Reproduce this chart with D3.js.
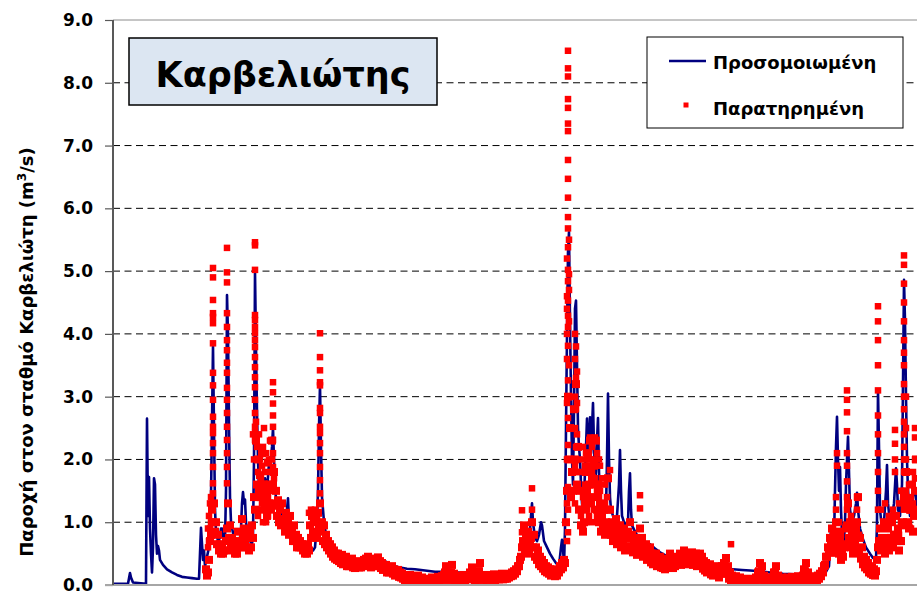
<!DOCTYPE html>
<html>
<head>
<meta charset="utf-8">
<script src="https://cdn.jsdelivr.net/npm/d3@7"></script>
<style>
  body { margin: 0; background: #fff; }
  text { font-family: "DejaVu Sans", sans-serif; font-weight: bold; fill: #000; }
</style>
</head>
<body>
<div id="chart"></div>
<script>
// simulated discharge, [day, m3/s]
var simulated = [
  [0,0.02],[15,0.02],[17,0.19],[18,0.12],[20,0.04],[33,0.02],[34,2.65],[35,1.1],[36,1.72],[37,0.9],
  [38,0.5],[39,0.2],[40,0.6],[41,1.7],[42,1.6],[43,0.8],[44,0.5],[45,0.62],[46,0.55],[47,0.4],
  [50,0.32],[54,0.25],[59,0.2],[64,0.16],[69,0.13],[74,0.12],[79,0.11],[84,0.1],[86,0.1],[87,0.5],
  [88,0.91],[89,0.65],[90,0.4],[91,0.55],[92,0.3],[94,0.45],[96,0.6],[97,0.9],[98,1.4],[99,2.6],
  [100,3.8],[101,2.5],[102,1.2],[103,0.85],[105,0.7],[107,0.75],[108,0.9],[109,0.9],[110,0.75],[112,0.7],
  [113,1.5],[114,4.62],[115,3.98],[116,2.6],[117,1.4],[118,1.0],[120,0.83],[122,0.75],[124,0.7],[126,0.6],
  [128,0.9],[129,1.3],[130,1.48],[131,1.3],[132,1.36],[133,1.0],[135,0.8],[137,0.7],[139,0.65],[140,0.8],
  [141,2.0],[142,4.98],[143,3.8],[144,2.74],[145,2.0],[146,1.5],[148,1.5],[150,1.55],[152,1.7],[154,1.5],
  [156,1.94],[157,1.85],[158,2.0],[159,2.2],[160,2.5],[161,2.0],[162,1.5],[164,1.3],[166,1.2],[168,1.15],
  [170,1.1],[172,1.05],[174,1.2],[175,1.38],[176,1.0],[178,0.95],[180,0.9],[182,0.8],[184,0.75],[187,0.7],
  [190,0.6],[193,0.55],[195,0.53],[197,0.6],[200,0.55],[202,0.6],[204,1.0],[205,1.5],[206,2.5],[207,3.18],
  [208,2.2],[209,1.4],[211,1.0],[213,0.8],[215,0.75],[217,0.7],[220,0.6],[224,0.55],[227,0.5],[232,0.46],
  [237,0.42],[242,0.4],[247,0.4],[252,0.42],[257,0.43],[262,0.4],[267,0.42],[272,0.38],[277,0.33],[282,0.3],
  [287,0.28],[294,0.26],[302,0.25],[312,0.23],[322,0.21],[332,0.21],[342,0.2],[352,0.2],[362,0.2],[372,0.19],
  [382,0.19],[392,0.2],[399,0.22],[404,0.3],[407,0.4],[410,0.55],[413,0.6],[415,0.7],[417,0.9],[419,1.3],
  [420,1.0],[422,0.75],[424,0.7],[426,0.8],[428,1.0],[429,0.95],[431,0.7],[434,0.6],[437,0.5],[440,0.42],
  [443,0.35],[446,0.3],[448,0.6],[449,0.72],[450,0.6],[451,0.3],[452,0.9],[453,2.5],[454,4.0],[455,5.3],
  [456,5.62],[457,4.2],[458,3.0],[459,2.0],[460,1.6],[461,2.8],[462,4.4],[463,4.53],[464,3.5],[465,2.5],
  [466,2.2],[467,2.0],[468,1.6],[469,1.3],[470,1.15],[471,1.4],[472,1.8],[473,2.2],[474,2.65],[475,2.0],
  [476,2.3],[477,2.67],[478,2.1],[479,2.5],[480,2.9],[481,2.2],[482,1.6],[483,1.8],[484,2.3],[485,2.66],
  [486,1.8],[487,1.4],[489,1.3],[491,1.1],[493,1.2],[494,2.0],[495,3.05],[496,2.0],[497,1.4],[498,1.2],
  [500,1.1],[502,1.0],[504,1.1],[506,1.6],[507,2.15],[508,1.5],[509,1.1],[511,1.0],[513,0.95],[515,1.0],
  [516,1.5],[517,1.78],[518,1.2],[519,0.95],[522,0.85],[527,0.72],[532,0.68],[537,0.65],[542,0.58],[547,0.52],
  [554,0.46],[562,0.44],[570,0.42],[579,0.41],[587,0.4],[595,0.33],[604,0.27],[612,0.26],[620,0.25],[629,0.24],
  [637,0.23],[647,0.22],[657,0.2],[670,0.18],[682,0.17],[692,0.17],[702,0.16],[712,0.18],[716,0.3],[717,0.6],
  [718,0.91],[719,0.85],[720,0.6],[721,0.7],[722,1.5],[723,2.2],[724,2.68],[725,2.0],[726,1.5],[727,1.88],
  [728,1.2],[729,0.8],[730,0.56],[731,0.7],[732,1.0],[733,1.6],[734,2.0],[735,2.36],[736,1.8],[737,1.2],
  [739,1.0],[741,1.1],[743,1.3],[744,1.47],[745,1.2],[747,0.9],[750,0.73],[753,0.6],[757,0.5],[760,0.43],
  [763,0.4],[764,1.0],[765,3.1],[766,2.2],[767,1.2],[769,0.9],[771,1.0],[773,1.5],[774,1.91],[775,1.3],
  [777,1.0],[779,1.1],[781,1.3],[783,1.86],[784,1.6],[785,1.2],[787,1.1],[789,1.6],[790,3.2],[791,4.86],
  [792,4.2],[793,3.0],[794,2.0],[795,1.5],[797,1.1],[799,1.2],[801,1.6],[803,1.4],[804,1.2]
];

// observed discharge: first reading every 2 days from day 93
var obsStartDay = 93;
var obsStepDays = 2;
var observedHigh = [
  0.25,0.2,0.7,1.2,1.3,1.0,0.8,0.65,0.6,0.55,
  0.7,1.3,0.95,0.75,0.65,0.6,0.85,0.7,1.05,0.9,
  0.8,0.75,0.85,0.95,1.4,2.3,2.0,1.75,2.1,1.6,
  1.45,1.95,1.6,2.3,1.8,1.5,1.35,1.2,1.3,1.05,
  1.15,1.0,1.1,0.9,0.95,0.8,0.75,0.7,0.65,0.6,
  0.55,0.65,0.95,1.1,1.0,1.05,1.15,1.3,1.0,0.95,
  0.8,0.7,0.65,0.6,0.55,0.5,0.5,0.45,0.48,0.42,
  0.45,0.4,0.38,0.42,0.36,0.35,0.38,0.33,0.36,0.4,
  0.42,0.45,0.38,0.35,0.38,0.42,0.44,0.38,0.35,0.3,
  0.32,0.28,0.26,0.3,0.25,0.22,0.24,0.2,0.18,0.15,
  0.13,0.12,0.16,0.1,0.12,0.08,0.15,0.1,0.12,0.08,
  0.1,0.05,0.09,0.12,0.08,0.1,0.13,0.1,0.14,0.16,
  0.3,0.2,0.14,0.32,0.18,0.12,0.15,0.1,0.13,0.16,
  0.12,0.15,0.2,0.28,0.15,0.12,0.22,0.35,0.15,0.13,
  0.16,0.12,0.15,0.14,0.17,0.13,0.16,0.15,0.18,0.14,
  0.16,0.15,0.18,0.2,0.22,0.25,0.3,0.4,0.6,0.95,
  0.75,0.85,0.65,1.0,0.8,0.6,0.55,0.45,0.4,0.35,
  0.3,0.28,0.25,0.22,0.25,0.2,0.22,0.3,0.35,0.4,
  1.0,3.0,2.5,1.8,2.8,3.2,2.2,1.5,1.2,1.0,
  1.8,2.1,2.3,1.7,1.9,2.3,1.6,1.3,1.1,1.2,
  1.0,1.7,1.2,1.0,0.9,1.05,0.85,0.95,0.8,0.9,
  0.75,0.85,1.0,0.8,0.7,0.75,0.65,0.9,0.75,0.6,
  0.65,0.55,0.6,0.5,0.45,0.5,0.42,0.45,0.4,0.38,
  0.35,0.42,0.5,0.4,0.38,0.42,0.45,0.5,0.45,0.55,
  0.5,0.45,0.48,0.52,0.45,0.5,0.42,0.5,0.45,0.38,
  0.35,0.3,0.33,0.28,0.25,0.3,0.28,0.22,0.3,0.35,
  0.43,0.3,0.2,0.15,0.12,0.14,0.1,0.12,0.08,0.1,
  0.07,0.09,0.06,0.1,0.08,0.12,0.2,0.35,0.3,0.15,
  0.1,0.12,0.08,0.1,0.2,0.3,0.15,0.1,0.12,0.08,
  0.1,0.12,0.09,0.13,0.1,0.12,0.14,0.1,0.13,0.25,
  0.35,0.2,0.12,0.1,0.14,0.12,0.15,0.18,0.22,0.3,
  0.45,0.6,0.75,0.9,0.8,1.0,0.85,0.7,0.55,0.6,
  0.9,1.3,1.0,0.8,0.7,0.9,1.4,0.75,0.6,0.45,
  0.4,0.35,0.3,0.28,0.25,0.22,0.6,0.9,0.75,1.0,
  0.65,0.9,0.75,1.0,0.8,1.1,0.9,0.7,0.95,1.4,
  1.8,1.3,1.2,1.6,1.1,2.0
];

// second reading of each 2-day step (one day later), usually the lower one
var observedLow = [
  0.15,0.4,0.8,1.0,0.85,0.65,0.55,0.5,0.5,0.55,
  0.9,0.75,0.6,0.55,0.5,0.5,0.6,0.6,0.75,0.65,
  0.6,0.55,0.6,0.75,1.2,1.6,1.5,1.4,1.6,1.2,
  1.1,1.3,1.2,1.6,1.3,1.1,1.0,0.95,1.0,0.85,
  0.9,0.8,0.85,0.7,0.7,0.6,0.6,0.6,0.55,0.5,
  0.5,0.55,0.75,0.85,0.8,0.75,0.9,0.85,0.7,0.65,
  0.6,0.55,0.5,0.45,0.42,0.4,0.38,0.35,0.33,0.35,
  0.3,0.3,0.32,0.28,0.27,0.3,0.28,0.28,0.32,0.33,
  0.36,0.3,0.28,0.3,0.33,0.35,0.3,0.27,0.24,0.25,
  0.2,0.2,0.22,0.18,0.15,0.17,0.13,0.12,0.1,0.08,
  0.06,0.09,0.05,0.07,0.04,0.08,0.05,0.06,0.03,0.05,
  0.02,0.04,0.07,0.04,0.05,0.08,0.05,0.08,0.1,0.2,
  0.14,0.08,0.2,0.1,0.07,0.09,0.06,0.08,0.1,0.07,
  0.09,0.12,0.18,0.1,0.07,0.14,0.22,0.1,0.08,0.1,
  0.08,0.1,0.09,0.11,0.08,0.1,0.09,0.12,0.09,0.1,
  0.1,0.12,0.14,0.15,0.18,0.22,0.3,0.45,0.7,0.55,
  0.65,0.5,0.75,0.6,0.45,0.4,0.33,0.3,0.26,0.22,
  0.2,0.18,0.15,0.17,0.14,0.15,0.2,0.25,0.28,0.35,
  1.5,2.0,1.4,1.5,2.0,1.6,1.2,0.95,0.85,1.3,
  1.5,1.6,1.3,1.4,1.6,1.2,1.0,0.85,0.9,0.8,
  1.2,0.9,0.8,0.7,0.8,0.65,0.7,0.6,0.7,0.55,
  0.62,0.75,0.6,0.52,0.55,0.48,0.6,0.55,0.45,0.48,
  0.4,0.42,0.36,0.33,0.35,0.3,0.32,0.28,0.27,0.25,
  0.3,0.36,0.3,0.27,0.3,0.33,0.36,0.32,0.4,0.36,
  0.33,0.35,0.38,0.32,0.36,0.3,0.35,0.32,0.26,0.23,
  0.2,0.22,0.17,0.15,0.2,0.17,0.12,0.18,0.22,0.3,
  0.18,0.1,0.07,0.05,0.06,0.03,0.05,0.02,0.03,0.02,
  0.03,0.01,0.03,0.02,0.05,0.1,0.22,0.2,0.08,0.04,
  0.05,0.02,0.04,0.12,0.2,0.08,0.04,0.05,0.02,0.03,
  0.05,0.03,0.06,0.04,0.05,0.07,0.04,0.06,0.15,0.22,
  0.12,0.06,0.04,0.07,0.05,0.08,0.1,0.14,0.2,0.32,
  0.45,0.55,0.65,0.6,0.7,0.65,0.5,0.4,0.45,0.65,
  0.95,0.75,0.6,0.5,0.65,1.0,0.55,0.42,0.33,0.28,
  0.25,0.2,0.18,0.16,0.15,0.4,0.7,0.55,0.7,0.5,
  0.65,0.55,0.75,0.6,0.8,0.7,0.55,0.7,1.0,1.3,
  1.0,0.9,1.2,0.85,1.5,1.2
];

// extra readings during floods (many per day), [day, [m3/s...]]
var obsBursts = [
  [95,[0.9,0.6]],[96,[1.1,0.7]],[97,[1.3,0.9]],[98,[1.4,1.0]],
  [100,[5.05,4.9,4.54,4.33,4.27,4.17,3.85,3.38,3.18,2.95,2.68,2.52,2.42,2.26,2.1,1.88,1.62,1.46]],
  [114,[5.37,4.98,4.82,4.33,4.11,3.9,3.74,3.54,3.38,3.14,2.95,2.74,2.52,2.31,2.1,1.88,1.62]],
  [142,[5.46,5.41,5.02,4.3,4.22,4.11,4.01,3.9,3.79,3.63,3.47,3.31,3.15,2.95,2.74,2.52,2.42,2.31]],
  [140,[2.4]],[141,[2.0]],[143,[2.6,1.4]],[144,[2.2]],[145,[1.8,1.4,1.1]],[146,[2.4,1.2]],[147,[2.0,1.5,1.2]],
  [148,[1.7]],[149,[1.9,1.3]],[150,[2.2,1.0]],[151,[1.5,2.5,1.2]],[152,[1.8,1.2]],[153,[2.1,1.3,1.0]],
  [154,[1.6]],[155,[1.4,1.1]],[156,[2.0,1.6,1.2]],[157,[2.3,1.5]],[158,[1.8,1.3]],[159,[2.0,1.5]],
  [161,[1.7,1.3]],[163,[1.5]],[165,[1.25]],[167,[1.3]],
  [160,[3.23,3.07,2.89,2.7,2.52,2.31,2.1,1.88]],
  [196,[1.15]],[198,[1.2]],[200,[1.05]],[202,[1.2]],[204,[1.1]],
  [207,[4.01,3.63,3.42,3.23,3.18,2.82,2.74,2.52,2.42,2.26,2.1,1.88,1.67,1.46]],
  [409,[1.19,0.84]],[419,[1.54,1.2]],
  [454,[5.2,4.6,4.4,4.0,3.6,2.9,2.0,1.3,0.7]],
  [455,[8.51,8.23,8.1,7.74,7.6,7.35,7.23,6.77,6.47,6.17,5.86,5.68,5.38,5.02,4.84,4.53,4.29,4.11,3.81,3.26,2.66,2.23,1.56,1.2,0.84]],
  [456,[5.5,4.95,4.7,4.2,3.5,3.0]],
  [462,[4.0,3.6,3.0,2.5,1.9,1.3]],[463,[3.8,3.3,2.8,2.2,1.6]],[464,[3.4,2.9,2.4,1.8]],
  [466,[1.2,1.8]],[468,[1.1,1.5,2.0]],[470,[0.95,1.4,2.2]],[473,[1.0,1.2,2.1]],[476,[1.1,1.9]],
  [481,[1.2,1.6,2.3]],[486,[1.0,1.4,2.0]],[490,[0.9,1.3]],[494,[1.0,1.4]],
  [472,[1.9,1.6,1.4]],[474,[1.2,2.0]],[477,[2.35,2.0,1.6,1.4]],[479,[1.0,1.8,2.2]],
  [482,[2.35,2.0,1.7]],[484,[1.1,1.5,2.1]],[487,[1.9,1.5]],[489,[1.1,1.7]],[492,[1.6,1.3]],
  [497,[1.83]],[527,[1.43,1.22]],[618,[0.65]],
  [720,[0.5,0.9]],[723,[1.4,1.2]],[724,[2.1,1.9]],[726,[0.6,1.0]],[728,[0.8,0.5]],
  [734,[3.1,2.95,2.75,2.45,2.1,1.9,1.65,1.4,1.2]],
  [736,[0.9,0.6]],[738,[1.1,0.7]],[740,[1.0,0.6]],[746,[0.8,0.5]],
  [744,[1.4,1.2,1.0]],
  [765,[4.44,4.2,3.9,3.5,3.1,2.7,2.4,2.1,1.8,1.5,1.2]],
  [768,[1.2,0.6]],[772,[1.3,0.7]],[776,[1.1,0.6]],[780,[1.2,0.7]],[786,[1.3,0.8]],[788,[1.5,1.0]],
  [782,[2.47,2.25,2.0,1.8]],
  [791,[5.25,5.1,4.8,4.5,4.2,3.9,3.7,3.5,3.2,3.0,2.8,2.6,2.4,2.2,2.0,1.8,1.5,1.2]],
  [793,[3.0,2.5,2.0,1.5]],
  [796,[1.6,1.0]],[798,[1.4,0.9]],[800,[1.8,1.3]],[804,[1.7,1.2]],
  [802,[2.5,2.35,2.0,1.7]]
];

var yTicks = [0, 1, 2, 3, 4, 5, 6, 7, 8, 9];
var legendLabels = ["Προσομοιωμένη", "Παρατηρημένη"];
var titleText = "Καρβελιώτης";

var svgWidth = 917;
var svgHeight = 595;
var margin = { top: 20, right: 0, bottom: 10, left: 113 };
var width = svgWidth - margin.left - margin.right;
var height = svgHeight - margin.top - margin.bottom;

var svg = d3.select("#chart")
  .append("svg")
  .attr("width", svgWidth)
  .attr("height", svgHeight);

var chartGroup = svg.append("g")
  .attr("transform", `translate(${margin.left}, ${margin.top})`);

var xScale = d3.scaleLinear().domain([0, 804]).range([0, width]);
var yScale = d3.scaleLinear().domain([0, 9]).range([height, 0]);

// dashed gridlines
chartGroup.append("g")
  .selectAll("line")
  .data(yTicks.filter(d => d > 0 && d < 9))
  .enter()
  .append("line")
  .attr("x1", 0)
  .attr("x2", width)
  .attr("y1", d => yScale(d))
  .attr("y2", d => yScale(d))
  .attr("stroke", "#000")
  .attr("stroke-width", 1)
  .attr("stroke-dasharray", "7,4.5");

// top border
chartGroup.append("line")
  .attr("x1", 0).attr("x2", width)
  .attr("y1", yScale(9)).attr("y2", yScale(9))
  .attr("stroke", "#8c8c8c").attr("stroke-width", 1);

// y axis
var leftAxis = d3.axisLeft(yScale)
  .tickValues(yTicks)
  .tickSize(8)
  .tickPadding(12)
  .tickFormat(d3.format(".1f"));

var yAxis = chartGroup.append("g").call(leftAxis);
yAxis.select(".domain").remove();
yAxis.selectAll(".tick line").attr("stroke", "#595959").attr("stroke-width", 1.2);
yAxis.selectAll(".tick text")
  .style("font-size", "17px")
  .style("font-family", "'DejaVu Sans', sans-serif")
  .style("font-weight", "bold")
  .attr("fill", "#000");

// bottom and left axis lines
chartGroup.append("line")
  .attr("x1", -8).attr("x2", width)
  .attr("y1", height).attr("y2", height)
  .attr("stroke", "#a6a6a6").attr("stroke-width", 2);

chartGroup.append("line")
  .attr("x1", 0).attr("x2", 0)
  .attr("y1", 0).attr("y2", height)
  .attr("stroke", "#595959").attr("stroke-width", 2);

// clip for data
svg.append("defs").append("clipPath")
  .attr("id", "plotClip")
  .append("rect")
  .attr("x", 1).attr("y", -6)
  .attr("width", width).attr("height", height + 5);

var dataGroup = chartGroup.append("g").attr("clip-path", "url(#plotClip)");

// simulated line
var line = d3.line()
  .x(d => xScale(d[0]))
  .y(d => yScale(d[1]));

dataGroup.append("path")
  .datum(simulated)
  .attr("d", line)
  .attr("fill", "none")
  .attr("stroke", "#000080")
  .attr("stroke-width", 2.6)
  .attr("stroke-linejoin", "round");

// observed points: regular readings drawn as a dense band, flood bursts as single squares
var bandPoints = [];
observedHigh.forEach(function(q, i) {
  bandPoints.push({ day: obsStartDay + i * obsStepDays, q: q });
});
observedLow.forEach(function(q, i) {
  bandPoints.push({ day: obsStartDay + 1 + i * obsStepDays, q: q });
});
var burstPoints = [];
obsBursts.forEach(function(b) {
  b[1].forEach(function(q) { burstPoints.push({ day: b[0], q: q }); });
});

function drawSquares(points, cls, size) {
  dataGroup.selectAll("." + cls)
    .data(points)
    .enter()
    .append("rect")
    .attr("class", cls)
    .attr("x", d => xScale(d.day) - size / 2)
    .attr("y", d => Math.min(yScale(d.q) - size / 2, height - size - 1))
    .attr("width", size)
    .attr("height", size)
    .attr("fill", "#ff0000");
}
drawSquares(burstPoints, "obs-burst", 6.5);
drawSquares(bandPoints, "obs-band", 8);

// y axis label
var yLabel = svg.append("text")
  .attr("transform", "translate(33, 352) rotate(-90)")
  .attr("text-anchor", "middle")
  .style("font-size", "18px");
yLabel.append("tspan").text("Παροχή στον σταθμό Καρβελιώτη (m");
yLabel.append("tspan").attr("dy", -7).style("font-size", "12px").text("3");
yLabel.append("tspan").attr("dy", 7).text("/s)");

// title box
svg.append("rect")
  .attr("x", 129).attr("y", 38)
  .attr("width", 308).attr("height", 67)
  .attr("fill", "#dce6f2")
  .attr("stroke", "#000")
  .attr("stroke-width", 1.5);

svg.append("text")
  .attr("x", 283).attr("y", 87)
  .attr("text-anchor", "middle")
  .style("font-size", "35px")
  .text(titleText);

// legend
var legend = svg.append("g");
legend.append("rect")
  .attr("x", 647).attr("y", 37)
  .attr("width", 256).attr("height", 91)
  .attr("fill", "#fff")
  .attr("stroke", "#000")
  .attr("stroke-width", 1);

legend.append("line")
  .attr("x1", 669).attr("x2", 706)
  .attr("y1", 61).attr("y2", 61)
  .attr("stroke", "#000080")
  .attr("stroke-width", 2.4);

legend.append("rect")
  .attr("x", 683.5).attr("y", 102.5)
  .attr("width", 5).attr("height", 5)
  .attr("fill", "#ff0000");

legend.selectAll(".legend-text")
  .data(legendLabels)
  .enter()
  .append("text")
  .attr("class", "legend-text")
  .attr("x", 713)
  .attr("y", (d, i) => 69 + i * 46)
  .style("font-size", "18px")
  .text(d => d);
</script>
</body>
</html>
